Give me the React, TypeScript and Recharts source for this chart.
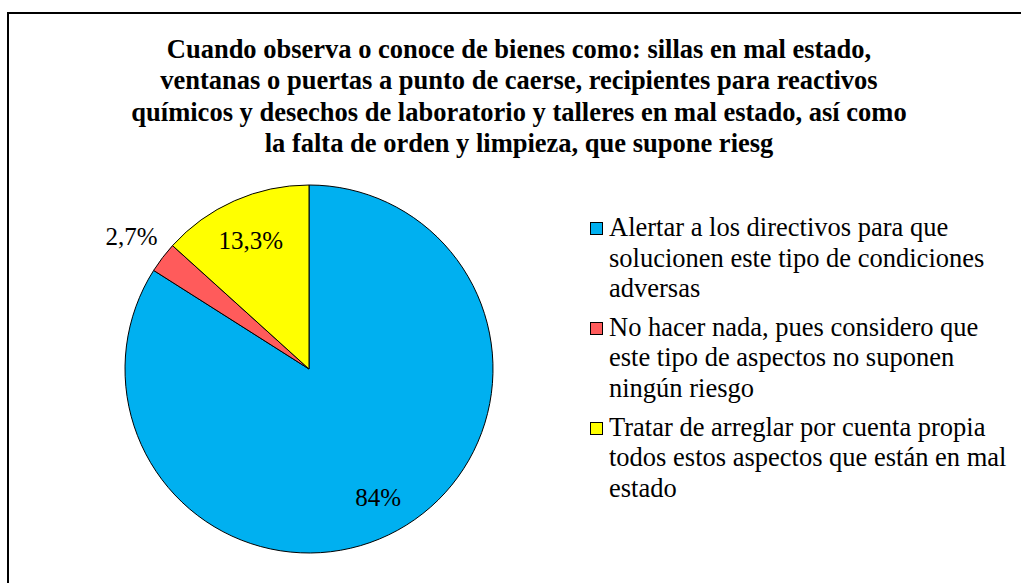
import React from 'react'
import { PieChart, Pie, Cell } from 'recharts'

const categories = [
    'Alertar a los directivos para que solucionen este tipo de condiciones adversas',
    'No hacer nada, pues considero que este tipo de aspectos no suponen ningún riesgo',
    'Tratar de arreglar por cuenta propia todos estos aspectos que están en mal estado',
]
const legendLines = [
    ['Alertar a los directivos para que', 'solucionen este tipo de condiciones', 'adversas'],
    ['No hacer nada, pues considero que', 'este tipo de aspectos no suponen', 'ningún riesgo'],
    ['Tratar de arreglar por cuenta propia', 'todos estos aspectos que están en mal', 'estado'],
]
const values = [84, 2.7, 13.3]
const valueLabels = ['84%', '2,7%', '13,3%']
const colors = ['#00B0F0', '#FF5B5B', '#FFFF00']

const titleLines = [
    'Cuando observa o conoce de bienes como: sillas en mal estado,',
    'ventanas o puertas a punto de caerse, recipientes para reactivos',
    'químicos y desechos de laboratorio y talleres en mal estado, así como',
    'la falta de orden y limpieza, que supone riesg',
]

const data = categories.map((name, i) => ({ name, value: values[i] }))

const FONT = '"Liberation Serif", "Times New Roman", serif'
const RAD = Math.PI / 180

// small slices get their label outside, big ones inside
function renderLabel(props: any) {
    const { cx, cy, midAngle, outerRadius, index } = props
    const small = values[index] < 5
    const r = small ? outerRadius + 39 : outerRadius * 0.78
    const x = cx + r * Math.cos(-midAngle * RAD)
    const y = cy + r * Math.sin(-midAngle * RAD)
    return (
        <text
            x={x}
            y={y + 3}
            textAnchor="middle"
            dominantBaseline="central"
            fontFamily={FONT}
            fontSize={25}
            fill="#000"
        >
            {valueLabels[index]}
        </text>
    )
}

function ChartLegend() {
    return (
        <div
            style={{
                position: 'absolute',
                left: 590,
                top: 212,
                fontFamily: FONT,
                fontSize: 26.5,
                lineHeight: '30.6px',
                color: '#000',
            }}
        >
            {legendLines.map((lines, i) => (
                <div key={i} style={{ display: 'flex', alignItems: 'flex-start', marginBottom: 8 }}>
                    <div
                        style={{
                            width: 11,
                            height: 11,
                            marginTop: 10,
                            marginRight: 6,
                            background: colors[i],
                            border: '1px solid #000',
                            flexShrink: 0,
                        }}
                    />
                    <div style={{ whiteSpace: 'nowrap' }}>
                        {lines.map((l, j) => (
                            <div key={j}>{l}</div>
                        ))}
                    </div>
                </div>
            ))}
        </div>
    )
}

export default function App() {
    return (
        <div
            style={{
                position: 'absolute',
                left: 0,
                top: 0,
                width: 1021,
                height: 583,
                background: '#fff',
                overflow: 'hidden',
            }}
        >
            <div
                style={{
                    position: 'absolute',
                    left: 7,
                    top: 12,
                    width: 1030,
                    height: 600,
                    border: '2px solid #000',
                    boxSizing: 'border-box',
                }}
            />
            <div
                style={{
                    position: 'absolute',
                    left: 19,
                    top: 34,
                    width: 1000,
                    textAlign: 'center',
                    fontFamily: FONT,
                    fontWeight: 'bold',
                    fontSize: 26.5,
                    lineHeight: '31.3px',
                    color: '#000',
                }}
            >
                {titleLines.map((t, i) => (
                    <div key={i}>{t}</div>
                ))}
            </div>
            <div style={{ position: 'absolute', left: 0, top: 0 }}>
                <PieChart width={1021} height={583} margin={{ top: 0, right: 0, bottom: 0, left: 0 }}>
                    <Pie
                        data={data}
                        dataKey="value"
                        nameKey="name"
                        cx={309}
                        cy={369}
                        outerRadius={184}
                        startAngle={90}
                        endAngle={-270}
                        stroke="#000"
                        strokeWidth={1}
                        label={renderLabel}
                        labelLine={false}
                        isAnimationActive={false}
                    >
                        {data.map((d, i) => (
                            <Cell key={d.name} fill={colors[i]} />
                        ))}
                    </Pie>
                </PieChart>
            </div>
            <ChartLegend />
        </div>
    )
}
